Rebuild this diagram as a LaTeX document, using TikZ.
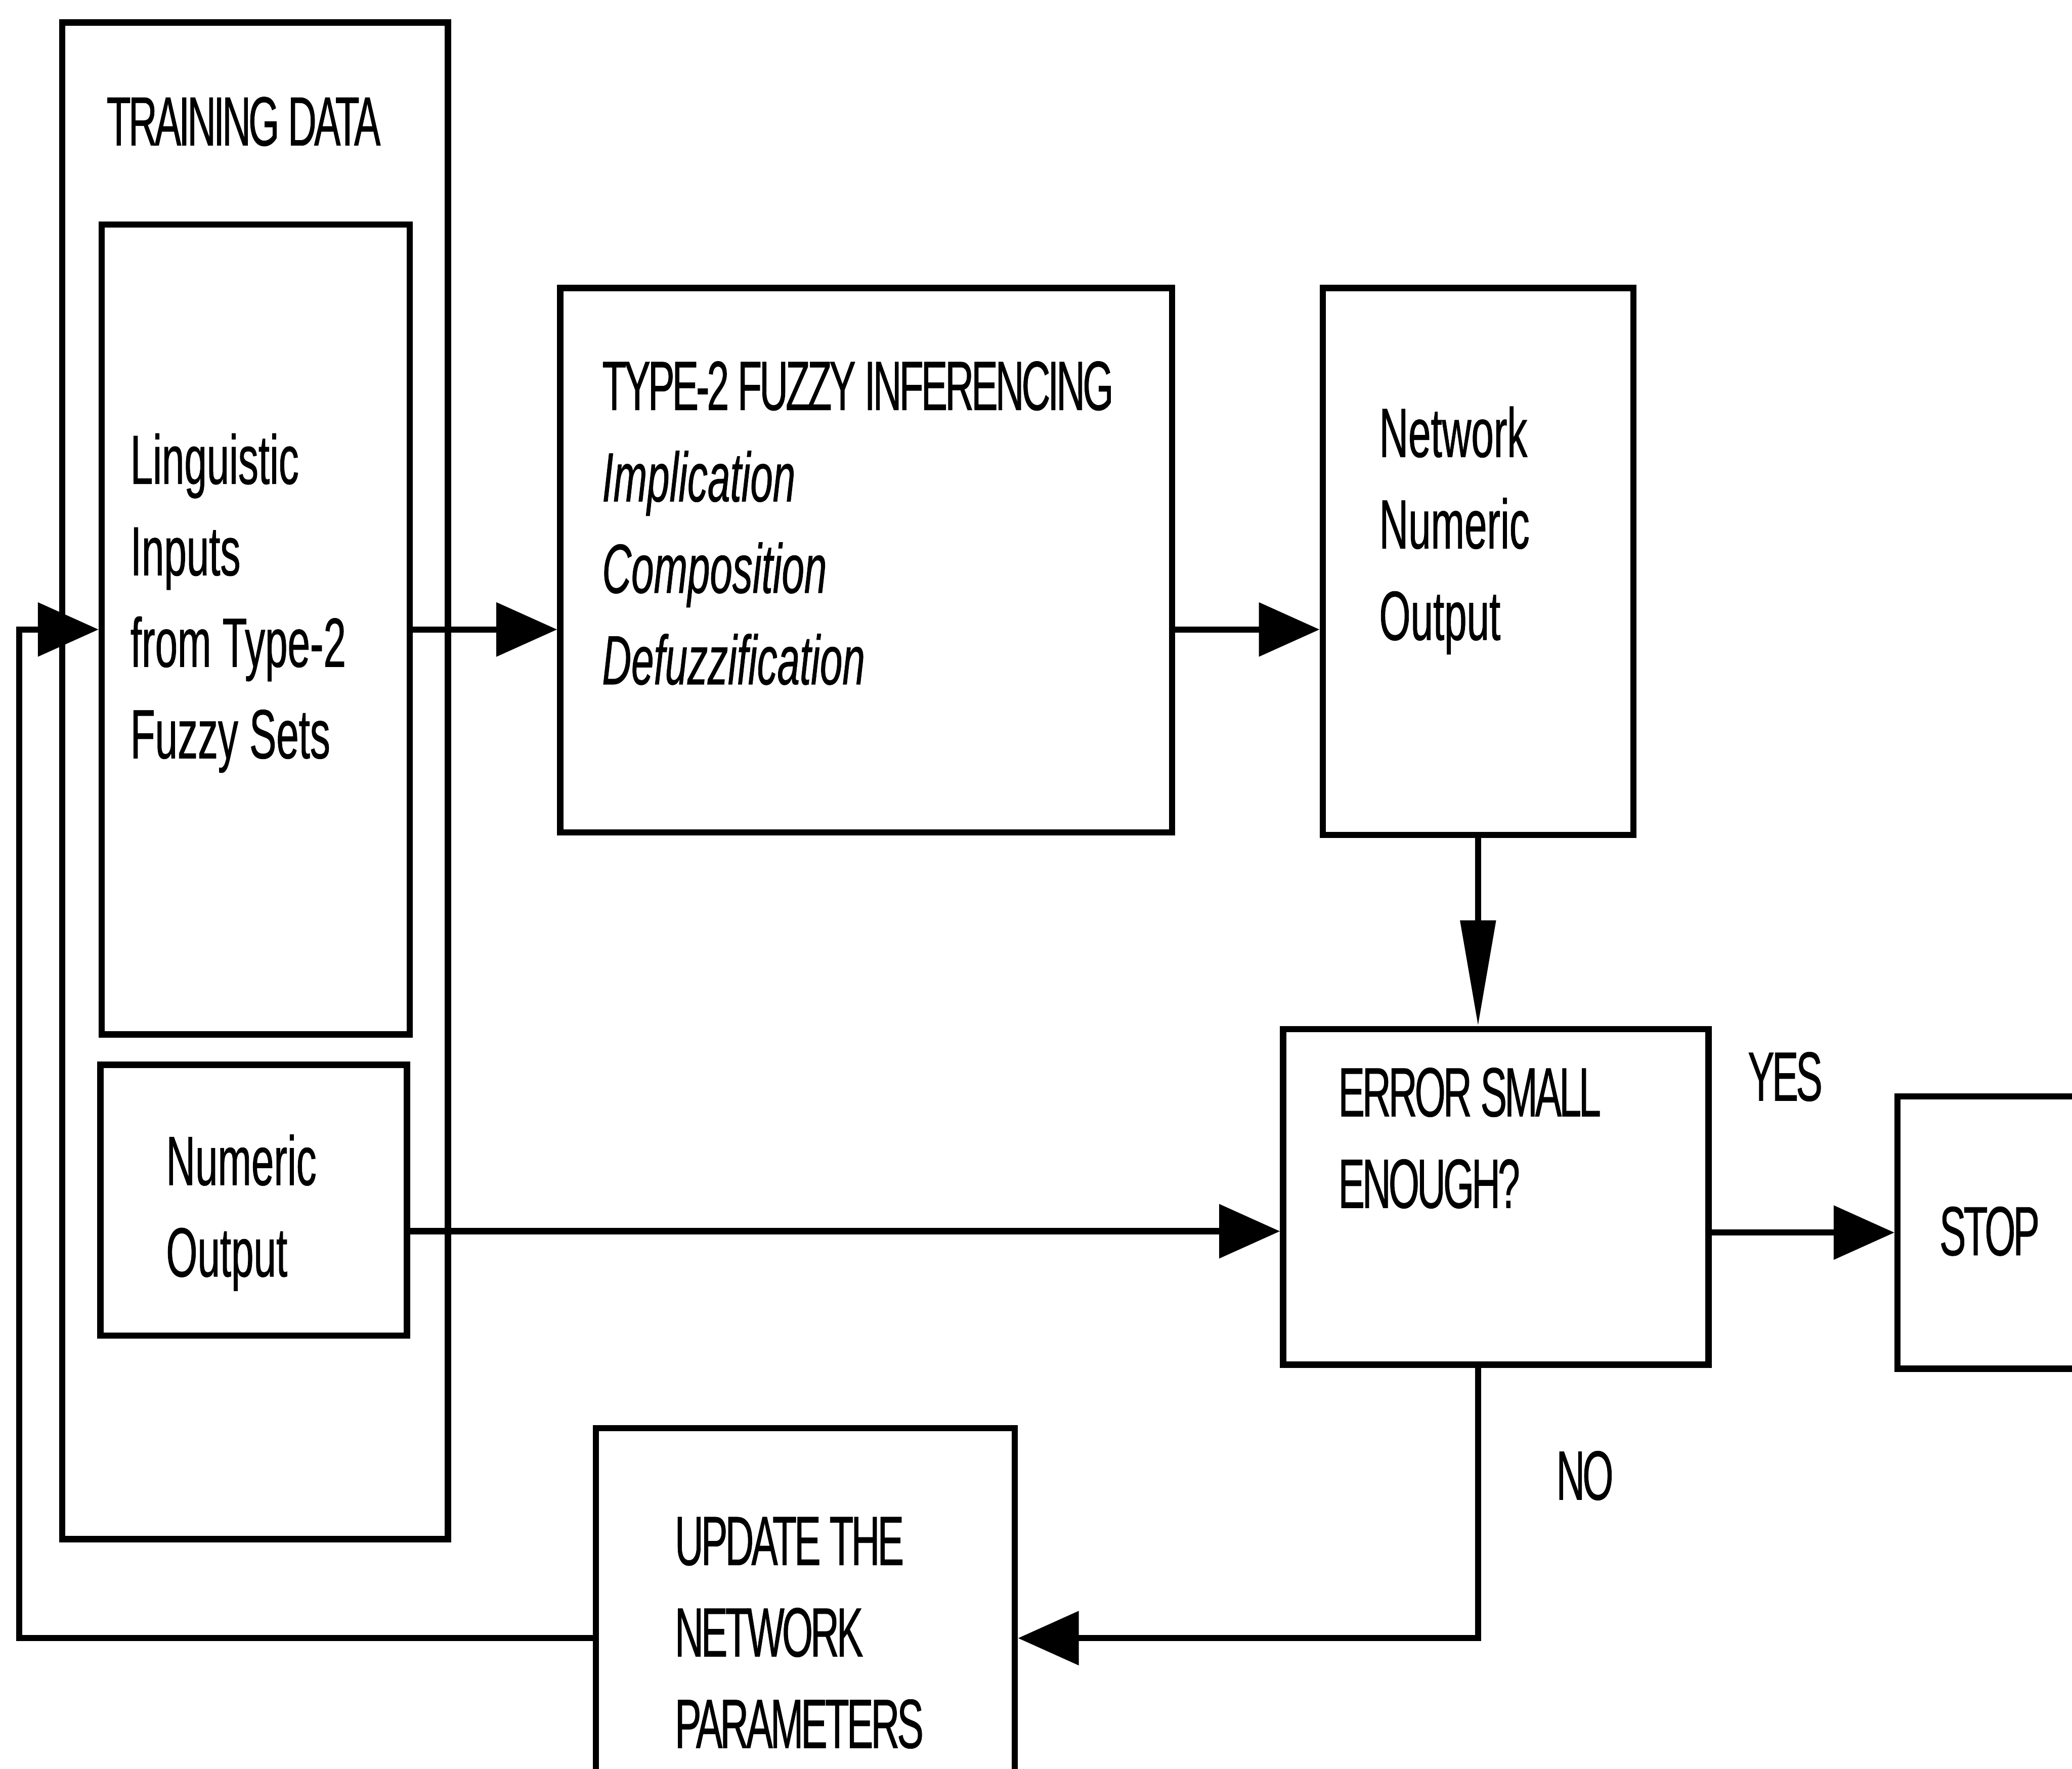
\documentclass[tikz,border=0pt]{standalone}
\usepackage{fontspec}
\setmainfont{Liberation Sans}[FakeStretch=0.58,FakeBold=0.6]
\newfontfamily\capsfont{Liberation Sans}[FakeStretch=0.57,FakeBold=0.6,LetterSpace=-3.5]
\usetikzlibrary{arrows.meta}
\tikzset{
  block/.style={draw, line width=1.35pt, inner sep=0pt},
  txt/.style={inner sep=0pt, anchor=west, align=left, font=\fontsize{15}{19.7}\selectfont},
  capstxt/.style={txt, font=\capsfont\fontsize{15}{19.7}\selectfont},
  flow/.style={line width=1.35pt, -{Triangle[length=0.46cm,width=0.4cm]}},
  flowlong/.style={line width=1.35pt, -{Triangle[length=0.8cm,width=0.26cm]}}
}
\begin{document}
\begin{tikzpicture}
    \clip (0,0) rectangle (15.68,-13.39);

    % Training data
    \node[block, minimum width=2.92cm, minimum height=11.48cm] (train) at (1.93,-5.91) {};
    \node[block, minimum width=2.33cm, minimum height=6.13cm] (ling) at (1.935,-4.765) {};
    \node[block, minimum width=2.32cm, minimum height=2.05cm] (numout) at (1.92,-9.085) {};
    \node[capstxt] (traintxt) at (0.80,-0.92) {TRAINING DATA};
    \node[txt] (lingtxt) at (0.98,-4.565) {Linguistic\\Inputs\\from Type-2\\Fuzzy Sets};
    \node[txt] (numtxt) at (1.25,-9.18) {Numeric\\Output};

    % Inference and network output
    \node[block, minimum width=4.63cm, minimum height=4.12cm] (infer) at (6.555,-4.24) {};
    \node[block, minimum width=2.35cm, minimum height=4.14cm] (netout) at (11.185,-4.25) {};
    \node[txt] (infertxt) at (4.55,-3.96) {{\capsfont TYPE-2 FUZZY INFERENCING}\\\textit{Implication}\\\textit{Composition}\\\textit{Defuzzification}};
    \node[txt] (nettxt) at (10.43,-4.015) {Network\\Numeric\\Output};

    % Error test, stop and update
    \node[block, minimum width=3.22cm, minimum height=2.54cm] (error) at (11.32,-9.06) {};
    \node[block, minimum width=2.04cm, minimum height=2.06cm] (stop) at (15.38,-9.33) {};
    \node[block, minimum width=3.17cm, minimum height=3.18cm] (update) at (6.095,-12.40) {};
    \node[capstxt] (errtxt) at (10.12,-8.615) {ERROR SMALL\\ENOUGH?};
    \node[capstxt] (stoptxt) at (14.67,-9.32) {STOP};
    \node[capstxt] (updtxt) at (5.10,-12.36) {UPDATE THE\\NETWORK\\PARAMETERS};
    \node[capstxt] (yes) at (13.22,-8.15) {YES};
    \node[capstxt] (no) at (11.77,-11.17) {NO};

    % Connectors
    \draw[flow] (ling.east) -- (ling.east -| infer.west);
    \draw[flow] (ling.east -| infer.east) -- (ling.east -| netout.west);
    \draw[flowlong] (netout.south) -- (netout.south |- error.north);
    \draw[flow] ([yshift=-0.235cm]numout.east) -- ([yshift=-0.235cm]numout.east -| error.west);
    \draw[flow] (stop.west -| error.east) -- (stop.west);
    \draw[flow] (netout.south |- error.south) |- (update.east);
    \path (update.west) ++(-4.34,0) coordinate (back);
    \draw[flow] (update.west) -- (back) |- (ling.west);
\end{tikzpicture}
\end{document}
